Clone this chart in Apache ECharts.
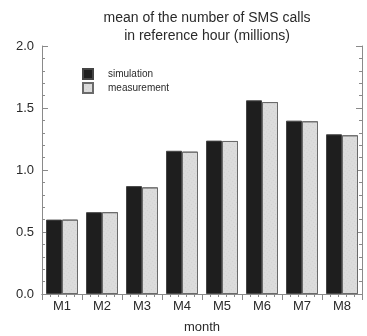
<!DOCTYPE html>
<html>
<head>
<meta charset="utf-8">
<script src="https://cdn.jsdelivr.net/npm/echarts@6/dist/echarts.min.js"></script>
<style>html,body{margin:0;padding:0;background:#fff}#c{width:367px;height:336px}</style>
</head>
<body>
<div id="c"></div>
<script>
const categories = ['M1','M2','M3','M4','M5','M6','M7','M8'];
const simulation = [0.60, 0.66, 0.87, 1.155, 1.237, 1.562, 1.398, 1.288];
const measurement = [0.60, 0.66, 0.86, 1.148, 1.234, 1.548, 1.393, 1.280];
const titleLines = ['mean of the number of SMS calls', 'in reference hour (millions)'];
const xName = 'month';

const font = 'Liberation Sans, Arial, sans-serif';
const axisCol = '#8a8a8a';
const chart = echarts.init(document.getElementById('c'));
chart.setOption({
  animation: false,
  textStyle: { fontFamily: font },
  title: {
    text: titleLines.join('\n'),
    left: 202, top: 4, textAlign: 'center',
    textStyle: { fontSize: 14, fontWeight: 'normal', color: '#2a2a2a', lineHeight: 18, fontFamily: font }
  },
  legend: {
    orient: 'vertical', left: 82, top: 68, padding: 0, itemWidth: 10, itemHeight: 10, itemGap: 2,
    icon: 'rect',
    textStyle: { fontSize: 10, color: '#2a2a2a', padding: [0, 0, 0, 10] },
    data: ['simulation', 'measurement']
  },
  grid: { left: 42, right: 5, top: 46, bottom: 42, containLabel: false, outerBoundsMode: 'none' },
  xAxis: [
    {
      type: 'category', data: categories, position: 'bottom',
      name: xName, nameLocation: 'middle', nameGap: 27,
      nameTextStyle: { fontSize: 13, color: '#2a2a2a' },
      axisLine: { lineStyle: { color: axisCol } },
      axisTick: { inside: true, length: 5, lineStyle: { color: axisCol } },
      axisLabel: { fontSize: 13, color: '#2a2a2a', margin: 6 }
    },
    {
      type: 'value', position: 'top', min: 0, max: 8, interval: 1,
      axisLine: { show: true, lineStyle: { color: axisCol } },
      axisTick: { show: true, inside: true, length: 6, lineStyle: { color: axisCol } },
      minorTick: { show: true, splitNumber: 5, length: 3, lineStyle: { color: axisCol } },
      axisLabel: { show: false }, splitLine: { show: false }
    }
  ],
  yAxis: [
    {
      type: 'value', min: 0, max: 2, interval: 0.5, position: 'left',
      axisLine: { show: true, lineStyle: { color: axisCol } },
      axisTick: { show: true, inside: true, length: 6, lineStyle: { color: axisCol } },
      minorTick: { show: true, splitNumber: 5, length: 3, lineStyle: { color: axisCol } },
      axisLabel: { fontSize: 13, color: '#2a2a2a', margin: 8, formatter: v => v.toFixed(1) },
      splitLine: { show: false }
    },
    {
      type: 'value', min: 0, max: 2, interval: 0.5, position: 'right',
      axisLine: { show: true, lineStyle: { color: axisCol } },
      axisTick: { show: true, inside: true, length: 6, lineStyle: { color: axisCol } },
      minorTick: { show: true, splitNumber: 5, length: 3, lineStyle: { color: axisCol } },
      axisLabel: { show: false }, splitLine: { show: false }
    }
  ],
  series: [
    {
      name: 'simulation', type: 'bar', data: simulation, xAxisIndex: 0, yAxisIndex: 0,
      barCategoryGap: '20%', barGap: '0%',
      itemStyle: { color: '#1e1e1e', borderColor: '#444', borderWidth: 1 }
    },
    {
      name: 'measurement', type: 'bar', data: measurement, xAxisIndex: 0, yAxisIndex: 0,
      barCategoryGap: '20%', barGap: '0%',
      itemStyle: {
        color: '#dcdcdc', borderColor: '#6a6a6a', borderWidth: 1,
        decal: { symbol: 'rect', symbolSize: 0.5, color: 'rgba(90,90,90,0.35)', dashArrayX: [1, 2], dashArrayY: [1, 2], rotation: 0.6 }
      }
    }
  ]
});
</script>
</body>
</html>
